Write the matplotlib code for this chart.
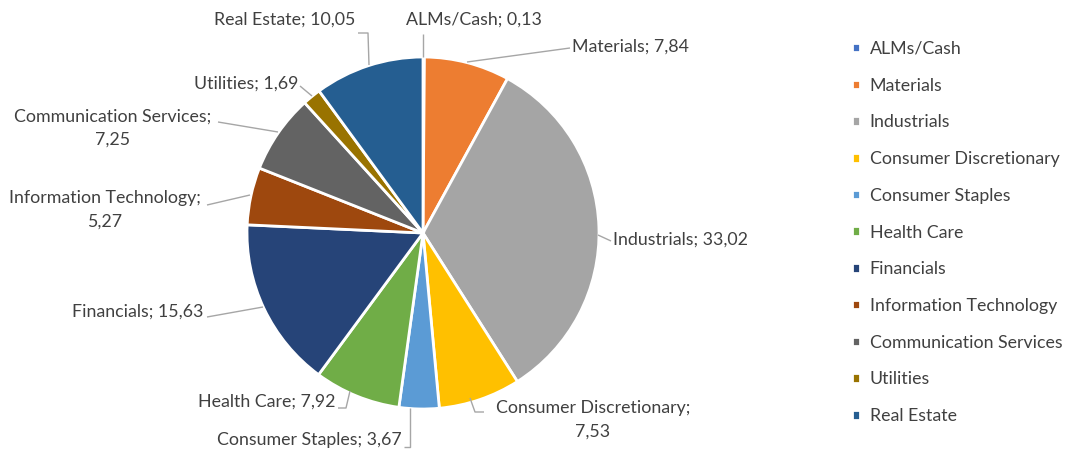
import matplotlib
matplotlib.use("Agg")
import matplotlib.pyplot as plt
import numpy as np

categories = ["ALMs/Cash", "Materials", "Industrials", "Consumer Discretionary",
              "Consumer Staples", "Health Care", "Financials", "Information Technology",
              "Communication Services", "Utilities", "Real Estate"]
values = [0.13, 7.84, 33.02, 7.53, 3.67, 7.92, 15.63, 5.27, 7.25, 1.69, 10.05]
colors = ["#4472C4", "#ED7D31", "#A5A5A5", "#FFC000", "#5B9BD5", "#70AD47",
          "#264478", "#9E480E", "#636363", "#997300", "#255E91"]

W, H = 1065, 450
fig = plt.figure(figsize=(W / 100, H / 100), dpi=100)
ax = fig.add_axes([0, 0, 1, 1])
ax.set_xlim(0, W)
ax.set_ylim(0, H)
ax.set_aspect("equal")
ax.axis("off")

font = "Lato"
tcol = "#404040"
fs = 12.8

cx, cy, R = 423, H - 233, 176
wedges, _ = ax.pie(values, colors=colors, startangle=90, counterclock=False,
                   center=(cx, cy), radius=R, frame=True,
                   wedgeprops=dict(edgecolor="white", linewidth=2))
ax.set_xlim(0, W)
ax.set_ylim(0, H)
ax.axis("off")

def fmt(v):
    return f"{v:.2f}".replace(".", ",")

# label layout (pixel coords from top): text anchor, ha, leader path
layout = {
    "ALMs/Cash": dict(xy=(474, 20), ha="center", path=[(423, 34), (423, 57)]),
    "Materials": dict(xy=(572, 47), ha="left", path=[(570, 48), (467, 62)]),
    "Industrials": dict(xy=(613, 240), ha="left", path=[(611, 241), (598, 235)]),
    "Consumer Discretionary": dict(xy=(593, 420), ha="center", two=True,
                                   path=[(484, 412), (475, 412), (470, 398)]),
    "Consumer Staples": dict(xy=(402, 440), ha="right",
                             path=[(404, 447), (410, 447), (410, 408)]),
    "Health Care": dict(xy=(336, 402), ha="right",
                        path=[(338, 408), (346, 408), (350, 391)]),
    "Financials": dict(xy=(203, 312), ha="right", path=[(207, 317), (263, 307)]),
    "Information Technology": dict(xy=(105, 210), ha="center", two=True,
                                   path=[(207, 205), (250, 195)]),
    "Communication Services": dict(xy=(113, 128), ha="center", two=True,
                                   path=[(218, 122), (278, 132)]),
    "Utilities": dict(xy=(298, 84), ha="right", path=[(300, 86), (312, 96)]),
    "Real Estate": dict(xy=(355, 20), ha="right",
                        path=[(358, 33), (368, 33), (369, 65)]),
}

for cat, v in zip(categories, values):
    L = layout[cat]
    if L.get("two"):
        txt = f"{cat};\n{fmt(v)}"
    else:
        txt = f"{cat}; {fmt(v)}"
    x, y = L["xy"]
    ax.text(x, H - y, txt, ha=L["ha"], va="center", fontsize=fs, family=font,
            color=tcol, multialignment="center", linespacing=1.55)
    px = [p[0] for p in L["path"]]
    py = [H - p[1] for p in L["path"]]
    ax.plot(px, py, color="#A6A6A6", lw=1.0, solid_capstyle="butt")

leg = ax.legend(wedges, categories, loc="upper left",
                bbox_to_anchor=(852 / W, 1 - 41 / H), frameon=False,
                prop=dict(family=font, size=fs), labelcolor=tcol,
                handlelength=0.45, handleheight=0.45, handletextpad=0.55,
                labelspacing=1.165, borderpad=0, borderaxespad=0)

fig.savefig("out.png", dpi=100, facecolor="white")
